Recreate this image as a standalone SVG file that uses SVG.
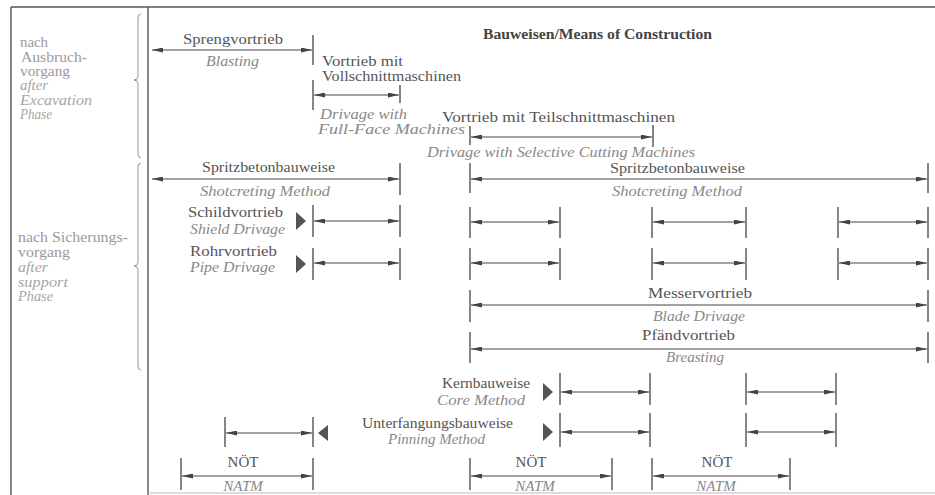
<svg xmlns="http://www.w3.org/2000/svg" width="935" height="495" viewBox="0 0 935 495">
<defs>
<marker id="ah" viewBox="0 0 11 5" refX="11" refY="2.5" markerWidth="11" markerHeight="5" markerUnits="userSpaceOnUse" orient="auto-start-reverse">
<path d="M0,0 L11,2.5 L0,5 z" fill="#444"/>
</marker>
<style>
text{font-family:"Liberation Serif","DejaVu Serif","Times New Roman",serif}
.de{font-size:15px;fill:#555}
.en{font-size:15px;font-style:italic;fill:#888}
.side{font-size:14px;fill:#9a9a9a}
.sidei{font-size:14px;font-style:italic;fill:#a5a5a5}
.title{font-size:15px;font-weight:bold;fill:#444}
.frame{stroke:#555;stroke-width:1.4;fill:none}
.brace{stroke:#999;stroke-width:1;fill:none}
.tick{stroke:#444;stroke-width:1.3}
.arr{stroke:#444;stroke-width:1.1;marker-start:url(#ah);marker-end:url(#ah)}
.tri{fill:#555}
</style>
</defs>
<rect width="935" height="495" fill="#fff"/>
<g id="frame">
<line class="frame" x1="11" y1="7" x2="935" y2="7"/>
<line class="frame" x1="11" y1="7" x2="11" y2="495"/>
<line class="frame" x1="148" y1="7" x2="148" y2="495"/>
<line x1="148" y1="493" x2="935" y2="493" stroke="#bbb" stroke-width="1"/>
<path class="brace" d="M141,14 q-3,0 -3,4 v58 q0,4 -4,4 q4,0 4,4 v70 q0,4 3,4"/>
<path class="brace" d="M141,163 q-3,0 -3,4 v95 q0,4 -4,4 q4,0 4,4 v96 q0,4 3,4"/>
</g>
<g id="phase-excavation">
<text class="side" x="20" y="47" textLength="28" lengthAdjust="spacingAndGlyphs">nach</text>
<text class="side" x="21" y="62" textLength="66" lengthAdjust="spacingAndGlyphs">Ausbruch-</text>
<text class="side" x="20" y="76" textLength="50" lengthAdjust="spacingAndGlyphs">vorgang</text>
<text class="sidei" x="20" y="90" textLength="28" lengthAdjust="spacingAndGlyphs">after</text>
<text class="sidei" x="20" y="105" textLength="72" lengthAdjust="spacingAndGlyphs">Excavation</text>
<text class="sidei" x="20" y="119" textLength="32" lengthAdjust="spacingAndGlyphs">Phase</text>
</g>
<g id="phase-support">
<text class="side" x="18" y="242" textLength="110" lengthAdjust="spacingAndGlyphs">nach Sicherungs-</text>
<text class="side" x="18" y="257" textLength="52" lengthAdjust="spacingAndGlyphs">vorgang</text>
<text class="sidei" x="18" y="272" textLength="30" lengthAdjust="spacingAndGlyphs">after</text>
<text class="sidei" x="18" y="287" textLength="50" lengthAdjust="spacingAndGlyphs">support</text>
<text class="sidei" x="18" y="301" textLength="35" lengthAdjust="spacingAndGlyphs">Phase</text>
</g>
<g id="title">
<text class="title" x="483" y="39" textLength="229" lengthAdjust="spacingAndGlyphs">Bauweisen/Means of Construction</text>
</g>
<g id="blasting">
<text class="de" x="183" y="44" textLength="100" lengthAdjust="spacingAndGlyphs">Sprengvortrieb</text>
<text class="en" x="206" y="66" textLength="53" lengthAdjust="spacingAndGlyphs">Blasting</text>
<line class="tick" x1="313" y1="35" x2="313" y2="65"/>
</g>
<g id="full-face">
<text class="de" x="322" y="66" textLength="81" lengthAdjust="spacingAndGlyphs">Vortrieb mit</text>
<text class="de" x="322" y="81" textLength="139" lengthAdjust="spacingAndGlyphs">Vollschnittmaschinen</text>
<text class="en" x="320" y="119" textLength="87" lengthAdjust="spacingAndGlyphs">Drivage with</text>
<text class="en" x="318" y="134" textLength="147" lengthAdjust="spacingAndGlyphs">Full-Face Machines</text>
<line class="tick" x1="313" y1="80" x2="313" y2="110"/>
<line class="tick" x1="400" y1="85" x2="400" y2="103"/>
</g>
<g id="selective-cutting">
<text class="de" x="442" y="122" textLength="233" lengthAdjust="spacingAndGlyphs">Vortrieb mit Teilschnittmaschinen</text>
<text class="en" x="427" y="157" textLength="268" lengthAdjust="spacingAndGlyphs">Drivage with Selective Cutting Machines</text>
<line class="tick" x1="470" y1="126" x2="470" y2="145"/>
<line class="tick" x1="653" y1="125" x2="653" y2="147"/>
</g>
<g id="shotcreting-left">
<text class="de" x="202" y="172" textLength="133" lengthAdjust="spacingAndGlyphs">Spritzbetonbauweise</text>
<text class="en" x="200" y="196" textLength="130" lengthAdjust="spacingAndGlyphs">Shotcreting Method</text>
<line class="tick" x1="400" y1="163" x2="400" y2="195"/>
</g>
<g id="shotcreting-right">
<text class="de" x="610" y="173" textLength="135" lengthAdjust="spacingAndGlyphs">Spritzbetonbauweise</text>
<text class="en" x="612" y="196" textLength="130" lengthAdjust="spacingAndGlyphs">Shotcreting Method</text>
<line class="tick" x1="470" y1="163" x2="470" y2="193"/>
<line class="tick" x1="928" y1="163" x2="928" y2="193"/>
</g>
<g id="shield">
<text class="de" x="188" y="217" textLength="95" lengthAdjust="spacingAndGlyphs">Schildvortrieb</text>
<text class="en" x="190" y="234" textLength="95" lengthAdjust="spacingAndGlyphs">Shield Drivage</text>
<polygon class="tri" points="296,212 306,221 296,230"/>
<line class="tick" x1="313" y1="205" x2="313" y2="237"/>
<line class="tick" x1="400" y1="205" x2="400" y2="237"/>
<line class="tick" x1="470" y1="207" x2="470" y2="238"/>
<line class="tick" x1="560" y1="207" x2="560" y2="238"/>
<line class="tick" x1="652" y1="207" x2="652" y2="238"/>
<line class="tick" x1="746" y1="207" x2="746" y2="238"/>
<line class="tick" x1="838" y1="207" x2="838" y2="238"/>
<line class="tick" x1="928" y1="207" x2="928" y2="238"/>
</g>
<g id="pipe">
<text class="de" x="190" y="256" textLength="87" lengthAdjust="spacingAndGlyphs">Rohrvortrieb</text>
<text class="en" x="190" y="272" textLength="85" lengthAdjust="spacingAndGlyphs">Pipe Drivage</text>
<polygon class="tri" points="296,255 306,264 296,273"/>
<line class="tick" x1="313" y1="248" x2="313" y2="280"/>
<line class="tick" x1="400" y1="248" x2="400" y2="280"/>
<line class="tick" x1="470" y1="248" x2="470" y2="280"/>
<line class="tick" x1="560" y1="248" x2="560" y2="280"/>
<line class="tick" x1="652" y1="248" x2="652" y2="280"/>
<line class="tick" x1="746" y1="248" x2="746" y2="280"/>
<line class="tick" x1="838" y1="248" x2="838" y2="280"/>
<line class="tick" x1="928" y1="248" x2="928" y2="280"/>
</g>
<g id="blade">
<text class="de" x="648" y="298" textLength="104" lengthAdjust="spacingAndGlyphs">Messervortrieb</text>
<text class="en" x="653" y="321" textLength="92" lengthAdjust="spacingAndGlyphs">Blade Drivage</text>
<line class="tick" x1="470" y1="290" x2="470" y2="322"/>
<line class="tick" x1="928" y1="290" x2="928" y2="322"/>
</g>
<g id="breasting">
<text class="de" x="642" y="340" textLength="93" lengthAdjust="spacingAndGlyphs">Pfändvortrieb</text>
<text class="en" x="666" y="362" textLength="58" lengthAdjust="spacingAndGlyphs">Breasting</text>
<line class="tick" x1="470" y1="332" x2="470" y2="363"/>
<line class="tick" x1="928" y1="332" x2="928" y2="363"/>
</g>
<g id="core">
<text class="de" x="442" y="388" textLength="88" lengthAdjust="spacingAndGlyphs">Kernbauweise</text>
<text class="en" x="437" y="405" textLength="88" lengthAdjust="spacingAndGlyphs">Core Method</text>
<polygon class="tri" points="543,383 553,392 543,401"/>
<line class="tick" x1="560" y1="373" x2="560" y2="405"/>
<line class="tick" x1="650" y1="373" x2="650" y2="405"/>
<line class="tick" x1="746" y1="373" x2="746" y2="405"/>
<line class="tick" x1="836" y1="373" x2="836" y2="405"/>
</g>
<g id="underpinning">
<text class="de" x="362" y="428" textLength="151" lengthAdjust="spacingAndGlyphs">Unterfangungsbauweise</text>
<text class="en" x="388" y="444" textLength="97" lengthAdjust="spacingAndGlyphs">Pinning Method</text>
<polygon class="tri" points="543,423 553,432 543,441"/>
<polygon class="tri" points="328,425 318,433 328,441"/>
<line class="tick" x1="225" y1="417" x2="225" y2="447"/>
<line class="tick" x1="313" y1="417" x2="313" y2="447"/>
<line class="tick" x1="560" y1="413" x2="560" y2="447"/>
<line class="tick" x1="650" y1="413" x2="650" y2="447"/>
<line class="tick" x1="746" y1="413" x2="746" y2="447"/>
<line class="tick" x1="836" y1="413" x2="836" y2="447"/>
</g>
<g id="natm">
<text class="de" x="243" y="467" text-anchor="middle" font-size="14">NÖT</text>
<text class="en" x="243" y="491" text-anchor="middle" font-size="14">NATM</text>
<text class="de" x="531" y="467" text-anchor="middle" font-size="14">NÖT</text>
<text class="en" x="535" y="491" text-anchor="middle" font-size="14">NATM</text>
<text class="de" x="717" y="467" text-anchor="middle" font-size="14">NÖT</text>
<text class="en" x="716" y="491" text-anchor="middle" font-size="14">NATM</text>
<line class="tick" x1="181" y1="458" x2="181" y2="490"/>
<line class="tick" x1="313" y1="458" x2="313" y2="490"/>
<line class="tick" x1="470" y1="458" x2="470" y2="490"/>
<line class="tick" x1="612" y1="458" x2="612" y2="490"/>
<line class="tick" x1="652" y1="458" x2="652" y2="490"/>
<line class="tick" x1="790" y1="458" x2="790" y2="490"/>
</g>
<g id="connectors">
<line class="arr" x1="152" y1="50" x2="312" y2="50"/>
<line class="arr" x1="314" y1="95" x2="399" y2="95"/>
<line class="arr" x1="471" y1="137" x2="652" y2="137"/>
<line class="arr" x1="152" y1="179" x2="399" y2="179"/>
<line class="arr" x1="471" y1="179" x2="927" y2="179"/>
<line class="arr" x1="314" y1="221" x2="399" y2="221"/>
<line class="arr" x1="471" y1="222" x2="559" y2="222"/>
<line class="arr" x1="653" y1="222" x2="745" y2="222"/>
<line class="arr" x1="839" y1="222" x2="927" y2="222"/>
<line class="arr" x1="314" y1="263" x2="399" y2="263"/>
<line class="arr" x1="471" y1="263" x2="559" y2="263"/>
<line class="arr" x1="653" y1="263" x2="745" y2="263"/>
<line class="arr" x1="839" y1="263" x2="927" y2="263"/>
<line class="arr" x1="471" y1="305" x2="927" y2="305"/>
<line class="arr" x1="471" y1="349" x2="927" y2="349"/>
<line class="arr" x1="561" y1="392" x2="649" y2="392"/>
<line class="arr" x1="747" y1="392" x2="835" y2="392"/>
<line class="arr" x1="226" y1="433" x2="312" y2="433"/>
<line class="arr" x1="561" y1="432" x2="649" y2="432"/>
<line class="arr" x1="747" y1="432" x2="835" y2="432"/>
<line class="arr" x1="182" y1="476" x2="312" y2="476"/>
<line class="arr" x1="471" y1="476" x2="611" y2="476"/>
<line class="arr" x1="653" y1="476" x2="789" y2="476"/>
</g>
</svg>
